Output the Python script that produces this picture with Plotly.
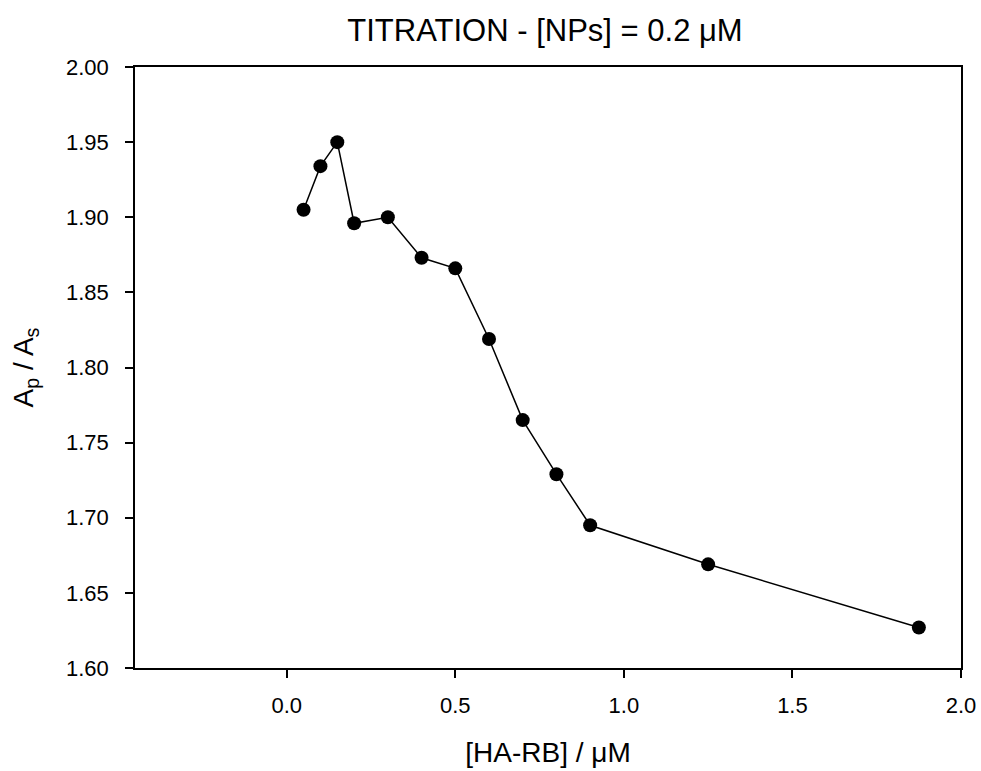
import plotly.graph_objects as go

conc = [0.05, 0.1, 0.15, 0.2, 0.3, 0.4, 0.5, 0.6, 0.7, 0.8, 0.9, 1.25, 1.875]
ratio = [1.905, 1.934, 1.950, 1.896, 1.900, 1.873, 1.866, 1.819, 1.765, 1.729, 1.695, 1.669, 1.627]
x_ticks = [0.0, 0.5, 1.0, 1.5, 2.0]
x_labels = ["0.0", "0.5", "1.0", "1.5", "2.0"]
y_ticks = [1.60, 1.65, 1.70, 1.75, 1.80, 1.85, 1.90, 1.95, 2.00]
y_labels = ["1.60", "1.65", "1.70", "1.75", "1.80", "1.85", "1.90", "1.95", "2.00"]

FONT = "Liberation Sans, Arial, sans-serif"
W, H = 981, 771

fig = go.Figure()
fig.add_trace(go.Scatter(
    x=conc, y=ratio, mode="lines+markers",
    line=dict(color="black", width=1.5),
    marker=dict(color="black", size=14),
    showlegend=False,
))

fig.update_layout(
    width=W, height=H,
    margin=dict(l=135, r=20, t=67, b=103),
    paper_bgcolor="white", plot_bgcolor="white",
    font=dict(family=FONT, size=22, color="black"),
    title=dict(text="TITRATION - [NPs] = 0.2 μM", x=545 / W, xanchor="center",
               y=1 - 30.5 / H, yanchor="middle", font=dict(size=31, color="black")),
)
fig.update_xaxes(
    range=[-0.45, 2.0], tickvals=x_ticks, ticktext=x_labels,
    showline=True, linecolor="black", linewidth=1.5, mirror=True,
    ticks="outside", ticklen=8, tickwidth=1.5, tickcolor="black",
    showgrid=False, zeroline=False, ticklabelstandoff=9,
    ticklabeloverflow="allow", automargin=False,
    tickfont=dict(size=22),
    title=dict(text="[HA-RB] / μM", font=dict(size=28), standoff=25),
)
fig.update_yaxes(
    range=[1.60, 2.00], tickvals=y_ticks, ticktext=y_labels,
    showline=True, linecolor="black", linewidth=1.5, mirror=True,
    ticks="outside", ticklen=8, tickwidth=1.5, tickcolor="black",
    showgrid=False, zeroline=False, ticklabelstandoff=12,
    ticklabeloverflow="allow", automargin=False,
    tickfont=dict(size=22),
    title=dict(text="A<sub>p</sub> / A<sub>s</sub>", font=dict(size=28), standoff=24),
)

fig.write_html(
    "out.html",
    config={"displayModeBar": False},
    post_script="document.body.style.margin='0';document.body.style.overflow='hidden';",
)
